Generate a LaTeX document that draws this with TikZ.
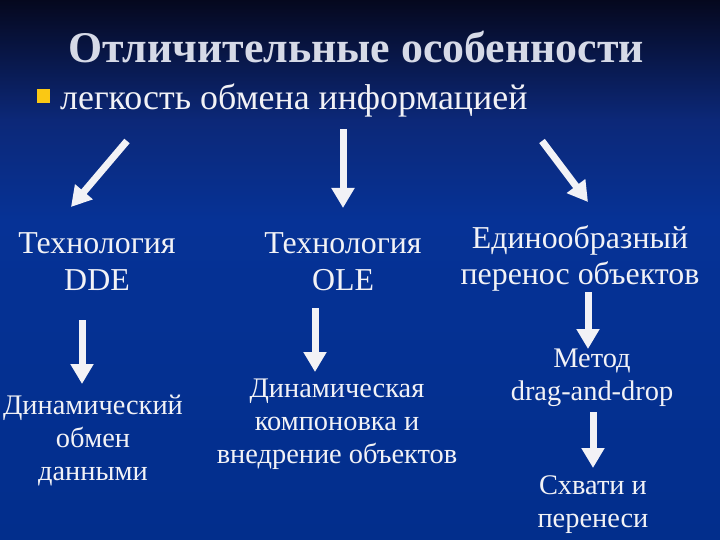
\documentclass[tikz,border=0pt]{standalone}
\usepackage{fontspec}
\setmainfont{Liberation Serif}
\usetikzlibrary{arrows.meta}
\definecolor{bgtop}{RGB}{5,8,30}
\definecolor{bgmid}{RGB}{12,40,120}
\definecolor{bgblue}{RGB}{6,50,150}
\definecolor{bgbot}{RGB}{2,46,140}
\definecolor{ink}{RGB}{242,242,246}
\definecolor{bullet}{RGB}{250,200,20}

\begin{document}
\begin{tikzpicture}[x=1bp, y=-1bp,
    lbl/.style={text=ink, align=center, anchor=base, inner sep=0pt,
      font=\fontsize{32}{37}\selectfont},
    small/.style={lbl, font=\fontsize{28.5}{33}\selectfont},
    arr/.style={draw=ink, line width=7bp, -{Triangle[length=20bp, width=22bp]}}]
  % background
  \useasboundingbox (0,0) rectangle (720,540);
  \fill[top color=bgtop, bottom color=bgmid] (0,0) rectangle (720,120);
  \fill[top color=bgmid, bottom color=bgblue] (0,120) rectangle (720,220);
  \fill[top color=bgblue, bottom color=bgbot] (0,220) rectangle (720,540);

  % title and bullet
  \node[anchor=base, inner sep=0pt, text=ink!88!bgmid,
    font=\bfseries\fontsize{44}{50}\selectfont] (title) at (356,63) {Отличительные особенности};
  \fill[bullet] (37,89) rectangle (50,103);
  \node[lbl, anchor=base west, font=\fontsize{36}{40}\selectfont] (ease) at (60,110)
    {легкость обмена информацией};

  % texts (base = last line)
  \node[lbl] (dde) at (97,290) {Технология\\DDE};
  \node[lbl] (ole) at (343,290) {Технология\\OLE};
  \node[lbl] (uni) at (580,285) {Единообразный\\перенос объектов};
  \node[small] (dyn) at (93,480) {Динамический\\обмен\\данными};
  \node[small] (emb) at (337,463) {Динамическая\\компоновка и\\внедрение объектов};
  \node[small] (dnd) at (592,400) {Метод\\drag-and-drop};
  \node[small] (grab) at (593,527) {Схвати и\\перенеси};

  % arrows
  \coordinate (a1s) at (127,141); \coordinate (a1e) at (71,207);
  \coordinate (a2s) at (343,129); \coordinate (a2e) at (343,208);
  \coordinate (a3s) at (542,141); \coordinate (a3e) at (588,202);
  \coordinate (a4s) at (82,320);  \coordinate (a4e) at (82,384);
  \coordinate (a5s) at (315,308); \coordinate (a5e) at (315,372);
  \coordinate (a6s) at (588,292); \coordinate (a6e) at (588,349);
  \coordinate (a7s) at (593,412); \coordinate (a7e) at (593,468);
  \foreach \i in {1,...,7}
    \draw[arr] (a\i s) -- (a\i e);
\end{tikzpicture}
\end{document}
